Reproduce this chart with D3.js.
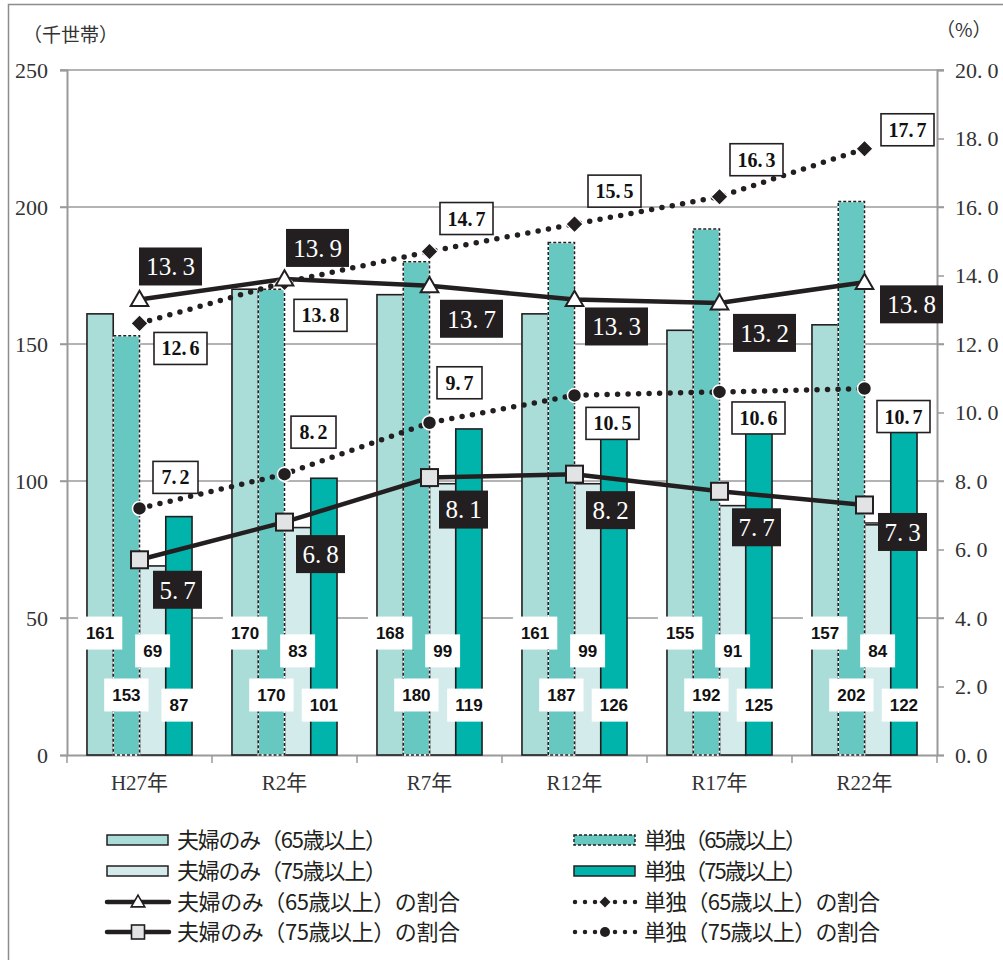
<!DOCTYPE html>
<html lang="ja">
<head>
<meta charset="utf-8">
<script src="https://cdn.jsdelivr.net/npm/d3@7"></script>
<style>
  body { margin: 0; background: #fff; }
  svg { display: block; }
</style>
</head>
<body>
<div id="chart"></div>
<script>
// values
const years = ["H27年", "R2年", "R7年", "R12年", "R17年", "R22年"];
const couple65 = [161, 170, 168, 161, 155, 157];
const single65 = [153, 170, 180, 187, 192, 202];
const couple75 = [69, 83, 99, 99, 91, 84];
const single75 = [87, 101, 119, 126, 125, 122];
const couple65Pct = [13.3, 13.9, 13.7, 13.3, 13.2, 13.8];
const single65Pct = [12.6, 13.8, 14.7, 15.5, 16.3, 17.7];
const couple75Pct = [5.7, 6.8, 8.1, 8.2, 7.7, 7.3];
const single75Pct = [7.2, 8.2, 9.7, 10.5, 10.6, 10.7];
const leftTicks = [0, 50, 100, 150, 200, 250];
const rightTicks = [0, 2, 4, 6, 8, 10, 12, 14, 16, 18, 20];
const legendBars = ["夫婦のみ（65歳以上）", "夫婦のみ（75歳以上）", "単独（65歳以上）", "単独（75歳以上）"];
const legendLines = ["夫婦のみ（65歳以上）の割合", "夫婦のみ（75歳以上）の割合", "単独（65歳以上）の割合", "単独（75歳以上）の割合"];

// label placement (offset from marker, px)
const couple65Off = [[31, -33], [33, -31], [42, 33], [42, 27], [45, 30], [47, 22]];
const single65Off = [[41, 25], [36, 33], [37, -33], [40, -33], [37, -37], [43, -19]];
const couple75Off = [[38, 30], [36, 32], [34, 32], [36, 36], [37, 36], [38, 27]];
const single75Off = [[36, -31], [29, -42], [30, -40], [38, 28], [39, 26], [39, 28]];

const W = 1003, H = 960;
const serif = "'Liberation Serif', 'DejaVu Serif', 'Noto Sans CJK JP', serif";
const gothic = "'Noto Sans CJK JP', sans-serif";
const sans = "'Liberation Sans', Arial, sans-serif";
const C = { c65: "#aadcd8", s65: "#67c7c1", c75: "#d3ebeb", s75: "#00b4ab", ink: "#231f20", grid: "#9a9a9a" };

const svg = d3.select("#chart").append("svg").attr("width", W).attr("height", H);

svg.append("rect").attr("x", 8.5).attr("y", 4.5).attr("width", 1000).attr("height", 1000)
  .attr("fill", "none").attr("stroke", "#8c8c8c").attr("stroke-width", 1.5);

const x0 = d3.scaleBand().domain(years).range([67, 937]);
const keys = ["c65", "s65", "c75", "s75"];
const x1 = d3.scaleBand().domain(keys).range([0, x0.bandwidth()]).paddingOuter(0.76);
const yL = d3.scaleLinear().domain([0, 250]).range([755, 70]);
const yR = d3.scaleLinear().domain([0, 20]).range([755, 70]);
const cx = d => x0(d) + x0.bandwidth() / 2;

// gridlines
svg.append("g").selectAll("line").data(leftTicks.slice(1)).join("line")
  .attr("x1", 60).attr("x2", 944).attr("y1", d => yL(d)).attr("y2", d => yL(d))
  .attr("stroke", C.grid).attr("stroke-width", 1.5);

// left axis
const axL = svg.append("g").attr("transform", "translate(67,0)")
  .call(d3.axisLeft(yL).tickValues(leftTicks).tickSize(7).tickPadding(12));
axL.attr("font-family", serif);
axL.select(".domain").attr("stroke", C.grid).attr("stroke-width", 2);
axL.selectAll(".tick line").attr("stroke", C.grid).attr("stroke-width", 1.5);
axL.selectAll(".tick text").attr("font-family", serif).attr("font-size", 22).attr("fill", "#333");

// right axis
const axR = svg.append("g").attr("transform", "translate(937,0)")
  .call(d3.axisRight(yR).tickValues(rightTicks).tickSize(7).tickPadding(11).tickFormat(""));
axR.attr("font-family", serif);
axR.select(".domain").attr("stroke", C.grid).attr("stroke-width", 2);
axR.selectAll(".tick line").attr("stroke", C.grid).attr("stroke-width", 1.5);
axR.selectAll(".tick text").attr("font-family", serif).attr("font-size", 22).attr("fill", "#333")
  .each(function(d) {
    const t = d3.select(this);
    t.append("tspan").text(d.toFixed(0) + ".");
    t.append("tspan").attr("dx", 5).text("0");
  });

// bottom axis
const axB = svg.append("g").attr("transform", "translate(0,755)")
  .call(d3.axisBottom(x0).tickSize(0).tickPadding(20));
axB.attr("font-family", serif);
axB.select(".domain").attr("stroke", C.grid).attr("stroke-width", 2);
axB.selectAll(".tick text").attr("font-family", serif).attr("font-size", 21).attr("fill", "#333");
svg.append("g").selectAll("line").data(d3.range(years.length + 1)).join("line")
  .attr("x1", i => 67 + i * x0.bandwidth()).attr("x2", i => 67 + i * x0.bandwidth())
  .attr("y1", 755).attr("y2", 763).attr("stroke", C.grid).attr("stroke-width", 1.5);

// units
svg.append("text").attr("x", 23).attr("y", 42).attr("font-family", gothic).attr("font-size", 19)
  .attr("fill", "#333").text("（千世帯）");
svg.append("text").attr("x", 936).attr("y", 37).attr("font-family", gothic).attr("font-size", 19)
  .attr("fill", "#333").text("（%）");

// bars
const barData = years.map((y, i) => ({ year: y, c65: couple65[i], s65: single65[i], c75: couple75[i], s75: single75[i] }));
const drawOrder = ["c65", "c75", "s75", "s65"];
const gBars = svg.append("g");
drawOrder.forEach(k => {
  const sel = gBars.selectAll(".b-" + k).data(barData).join("rect").attr("class", "b-" + k)
    .attr("x", d => x0(d.year) + x1(k)).attr("width", x1.bandwidth())
    .attr("y", d => yL(d[k])).attr("height", d => yL(0) - yL(d[k]))
    .attr("fill", C[k]);
  if (k === "s65") {
    sel.attr("stroke", "#fff").attr("stroke-width", 1.5);
    gBars.selectAll(".bd-" + k).data(barData).join("rect").attr("class", "bd-" + k)
      .attr("x", d => x0(d.year) + x1(k)).attr("width", x1.bandwidth())
      .attr("y", d => yL(d[k])).attr("height", d => yL(0) - yL(d[k]))
      .attr("fill", "none").attr("stroke", C.ink).attr("stroke-width", 1.5).attr("stroke-dasharray", "3 2");
  } else {
    sel.attr("stroke", C.ink).attr("stroke-width", 1.6);
  }
});

// bar value labels (white boxes)
const labelLevel = { c65: 44.5, s65: 21.9, c75: 38, s75: 18.2 };
keys.forEach(k => {
  barData.forEach(d => {
    const g = svg.append("g").attr("transform", `translate(${x0(d.year) + x1(k) + x1.bandwidth() / 2},${yL(labelLevel[k])})`);
    const r = g.append("rect").attr("fill", "#fff");
    const t = g.append("text").attr("text-anchor", "middle").attr("dy", "0.36em")
      .attr("font-family", sans).attr("font-weight", "bold").attr("font-size", 17).attr("fill", "#111").text(d[k]);
    const w = t.node().getComputedTextLength() + 16;
    r.attr("x", -w / 2).attr("y", -16.5).attr("width", w).attr("height", 33);
  });
});

// lines
const solid = { width: 4.5, dash: null };
const dotted = { width: 5.5, dash: "0 10.5" };
const lineGen = d3.line().x((d, i) => cx(years[i])).y(d => yR(d));
function drawLine(vals, style) {
  svg.append("path").datum(vals).attr("d", lineGen).attr("fill", "none")
    .attr("stroke", C.ink).attr("stroke-width", style.width)
    .attr("stroke-linecap", "round").attr("stroke-linejoin", "round")
    .attr("stroke-dasharray", style.dash);
}
drawLine(single75Pct, dotted);
drawLine(single65Pct, dotted);
drawLine(couple75Pct, solid);
drawLine(couple65Pct, solid);

// markers
const triPath = d3.symbol(d3.symbolTriangle, 135)();
const diaPath = "M0,-8.5L8.5,0L0,8.5L-8.5,0Z";
function markers(vals, fn) {
  vals.forEach((v, i) => fn(svg.append("g").attr("transform", `translate(${cx(years[i])},${yR(v)})`)));
}
markers(single75Pct, g => g.append("circle").attr("r", 7).attr("fill", C.ink).attr("stroke", "#fff").attr("stroke-width", 1.5));
markers(single65Pct, g => g.append("path").attr("d", diaPath).attr("fill", C.ink).attr("stroke", "#fff").attr("stroke-width", 1.2));
markers(couple75Pct, g => g.append("rect").attr("x", -8.5).attr("y", -8.5).attr("width", 17).attr("height", 17)
  .attr("fill", "#e2e3e4").attr("stroke", C.ink).attr("stroke-width", 2));
markers(couple65Pct, g => g.append("path").attr("d", triPath).attr("transform", "translate(0,1.5)")
  .attr("fill", "#fff").attr("stroke", C.ink).attr("stroke-width", 2));

// percentage labels
function pctText(t, v, gap) {
  const s = v.toFixed(1).split(".");
  t.append("tspan").text(s[0] + ".");
  t.append("tspan").attr("dx", gap).text(s[1]);
}
function darkLabels(vals, offs) {
  vals.forEach((v, i) => {
    const [dx, dy] = offs[i];
    const g = svg.append("g").attr("transform", `translate(${cx(years[i]) + dx},${yR(v) + dy})`);
    const n = v.toFixed(1).length;
    const w = n === 4 ? 63 : 49;
    g.append("rect").attr("x", -w / 2).attr("y", -19).attr("width", w).attr("height", 38).attr("fill", C.ink);
    const t = g.append("text").attr("text-anchor", "middle").attr("dy", "0.35em")
      .attr("font-family", serif).attr("font-size", 25).attr("fill", "#fff");
    pctText(t, v, 5);
  });
}
function lightLabels(vals, offs) {
  vals.forEach((v, i) => {
    const [dx, dy] = offs[i];
    const g = svg.append("g").attr("transform", `translate(${cx(years[i]) + dx},${yR(v) + dy})`);
    const n = v.toFixed(1).length;
    const w = n === 4 ? 53 : 45;
    g.append("rect").attr("x", -w / 2).attr("y", -16).attr("width", w).attr("height", 32)
      .attr("fill", "#fff").attr("stroke", C.ink).attr("stroke-width", 1.6);
    const t = g.append("text").attr("text-anchor", "middle").attr("dy", "0.35em")
      .attr("font-family", serif).attr("font-weight", "bold").attr("font-size", 20).attr("fill", "#111");
    pctText(t, v, 3);
  });
}
// leader for the last 75+ couple label
svg.append("line").attr("x1", cx(years[5])).attr("x2", cx(years[5]) + 14)
  .attr("y1", yR(couple75Pct[5]) + 18).attr("y2", yR(couple75Pct[5]) + 18)
  .attr("stroke", C.ink).attr("stroke-width", 1.5);
darkLabels(couple65Pct, couple65Off);
darkLabels(couple75Pct, couple75Off);
lightLabels(single65Pct, single65Off);
lightLabels(single75Pct, single75Off);

// legend
const rowY = [840, 871, 902, 932];
const colX = [107, 574];
const legend = svg.append("g");
function legendText(x, y, s, len) {
  legend.append("text").attr("x", x).attr("y", y).attr("dy", "0.36em")
    .attr("font-family", gothic).attr("font-size", 22).attr("fill", "#231f20")
    .attr("textLength", len).attr("lengthAdjust", "spacing").text(s);
}
// bar swatches: couple65, couple75 left; single65, single75 right
[["c65", 0, 0, 210], ["c75", 0, 1, 210], ["s65", 1, 0, 163], ["s75", 1, 1, 163]].forEach(([k, c, r, len], i) => {
  const sw = legend.append("rect").attr("x", colX[c]).attr("y", rowY[r] - 5).attr("width", 61).attr("height", 10)
    .attr("fill", C[k]).attr("stroke", C.ink).attr("stroke-width", 1.5);
  if (k === "s65") sw.attr("stroke-dasharray", "3 2");
  legendText(colX[c] + 70, rowY[r], legendBars[i], len);
});
// line swatches
[[0, 2, "tri", 283], [0, 3, "sq", 283], [1, 2, "dia", 236], [1, 3, "dot", 236]].forEach(([c, r, m, len], i) => {
  const x = colX[c], y = rowY[r], mid = x + 31;
  if (c === 0) {
    legend.append("line").attr("x1", x).attr("x2", x + 62).attr("y1", y).attr("y2", y)
      .attr("stroke", C.ink).attr("stroke-width", 4.5).attr("stroke-linecap", "round");
  } else {
    legend.append("line").attr("x1", x + 1).attr("x2", x + 62).attr("y1", y).attr("y2", y)
      .attr("stroke", C.ink).attr("stroke-width", 4.5).attr("stroke-linecap", "round").attr("stroke-dasharray", "0 10");
  }
  if (m === "tri") legend.append("path").attr("d", d3.symbol(d3.symbolTriangle, 80)()).attr("transform", `translate(${mid},${y + 1})`)
    .attr("fill", "#fff").attr("stroke", C.ink).attr("stroke-width", 1.6);
  if (m === "sq") legend.append("rect").attr("x", mid - 6.5).attr("y", y - 7).attr("width", 13).attr("height", 14)
    .attr("fill", "#e2e3e4").attr("stroke", C.ink).attr("stroke-width", 1.6);
  if (m === "dia") legend.append("path").attr("d", "M0,-5.5L5.5,0L0,5.5L-5.5,0Z").attr("transform", `translate(${mid},${y})`)
    .attr("fill", C.ink);
  if (m === "dot") legend.append("circle").attr("cx", mid).attr("cy", y).attr("r", 5).attr("fill", C.ink);
  legendText(x + 70, y, legendLines[i], len);
});
</script>
</body>
</html>
